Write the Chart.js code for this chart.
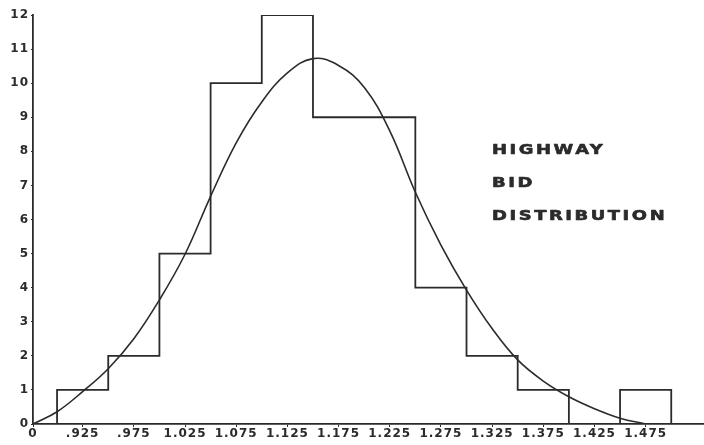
<!DOCTYPE html>
<html>
<head>
<meta charset="utf-8">
<script src="https://cdn.jsdelivr.net/npm/chart.js@4/dist/chart.umd.min.js"></script>
<style>
  html, body { margin: 0; padding: 0; background: #fff; }
  #wrap { width: 704px; height: 445px; position: relative; }
</style>
</head>
<body>
<div id="wrap"><canvas id="c" width="704" height="445"></canvas></div>
<script>
// Bid histogram: bin centres (0.05 wide) and number of bids in each bin
const binCenters = [0.925, 0.975, 1.025, 1.075, 1.125, 1.175, 1.225, 1.275, 1.325, 1.375, 1.425, 1.475];
const binCounts  = [1, 2, 5, 10, 12, 9, 9, 4, 2, 1, 0, 1];
const binWidth = 0.05;

// Fitted distribution curve, sampled along the bid ratio axis
const curveX = [0.8765, 0.9, 0.925, 0.95, 0.975, 1.0, 1.025, 1.05, 1.075, 1.1, 1.125, 1.15, 1.175, 1.2, 1.225, 1.25, 1.275, 1.3, 1.325, 1.35, 1.375, 1.4, 1.425, 1.45, 1.475];
const curveY = [0, 0.36, 0.95, 1.62, 2.5, 3.64, 4.98, 6.68, 8.25, 9.45, 10.3, 10.72, 10.52, 9.88, 8.6, 6.8, 5.25, 3.93, 2.8, 1.88, 1.26, 0.8, 0.45, 0.17, 0.0];

// Axis range and tick labels (the origin is labelled 0 on a broken axis)
const xAxisStart = 0.8765;
const xAxisEnd = 1.532;
const xTickValues = [xAxisStart, 0.925, 0.975, 1.025, 1.075, 1.125, 1.175, 1.225, 1.275, 1.325, 1.375, 1.425, 1.475];
const xTickLabels = ['0', '.925', '.975', '1.025', '1.075', '1.125', '1.175', '1.225', '1.275', '1.325', '1.375', '1.425', '1.475'];
const yMax = 12;

const titleLines = ['HIGHWAY', 'BID', 'DISTRIBUTION'];

// Step outline of the histogram: each bin edge carries the count that starts there
const histPoints = [{ x: binCenters[0] - binWidth / 2, y: 0 }];
binCenters.forEach((c, i) => histPoints.push({ x: c - binWidth / 2, y: binCounts[i] }));
histPoints.push({ x: binCenters[binCenters.length - 1] + binWidth / 2, y: 0 });

const curvePoints = curveX.map((x, i) => ({ x: x, y: curveY[i] }));

const ink = '#2b2b2b';
const labelFont = { family: '"DejaVu Sans", sans-serif', size: 12, weight: 'bold' };

const spacingPlugin = {
  id: 'spacing',
  beforeDraw(chart) { chart.ctx.letterSpacing = '1px'; }
};

// Three-line caption on the right, drawn in a wide heavy face
const titlePlugin = {
  id: 'sideTitle',
  afterDraw(chart) {
    const ctx = chart.ctx;
    ctx.save();
    ctx.fillStyle = ink;
    ctx.strokeStyle = ink;
    ctx.lineWidth = 0.6;
    ctx.lineJoin = 'round';
    ctx.font = 'bold 14px "DejaVu Sans", sans-serif';
    ctx.letterSpacing = '2px';
    ctx.textAlign = 'left';
    ctx.textBaseline = 'alphabetic';
    const left = 492, top = 154, gap = 33, stretch = 1.28;
    ctx.translate(left, 0);
    ctx.scale(stretch, 1);
    titleLines.forEach((t, i) => {
      ctx.fillText(t, 0, top + i * gap);
      ctx.strokeText(t, 0, top + i * gap);
    });
    ctx.restore();
  }
};

new Chart(document.getElementById('c'), {
  type: 'line',
  data: {
    datasets: [
      {
        label: 'Bids',
        data: histPoints,
        stepped: 'before',
        borderColor: ink,
        borderWidth: 1.8,
        pointRadius: 0,
        fill: false
      },
      {
        label: 'Fitted curve',
        data: curvePoints,
        tension: 0.4,
        borderColor: ink,
        borderWidth: 1.6,
        pointRadius: 0,
        fill: false
      }
    ]
  },
  options: {
    responsive: false,
    animation: false,
    devicePixelRatio: 1,
    layout: { padding: { top: 15, right: 0, left: 0, bottom: 0 } },
    plugins: { legend: { display: false }, tooltip: { enabled: false } },
    scales: {
      x: {
        type: 'linear',
        min: xAxisStart,
        max: xAxisEnd,
        afterBuildTicks(scale) { scale.ticks = xTickValues.map(v => ({ value: v })); },
        afterFit(scale) { scale.height = 21; },
        ticks: {
          autoSkip: false,
          maxRotation: 0,
          padding: 0,
          color: ink,
          font: labelFont,
          callback(value, index) { return xTickLabels[index]; }
        },
        grid: { drawOnChartArea: false, drawTicks: true, tickLength: 3, color: ink, lineWidth: 1 },
        border: { display: true, color: ink, width: 1.8 }
      },
      y: {
        min: 0,
        max: yMax,
        afterFit(scale) { scale.width = 33; },
        ticks: { stepSize: 1, padding: 2, color: ink, font: labelFont },
        grid: { drawOnChartArea: false, drawTicks: true, tickLength: 2, color: ink, lineWidth: 1 },
        border: { display: true, color: ink, width: 1.8 }
      }
    }
  },
  plugins: [spacingPlugin, titlePlugin]
});
</script>
</body>
</html>
